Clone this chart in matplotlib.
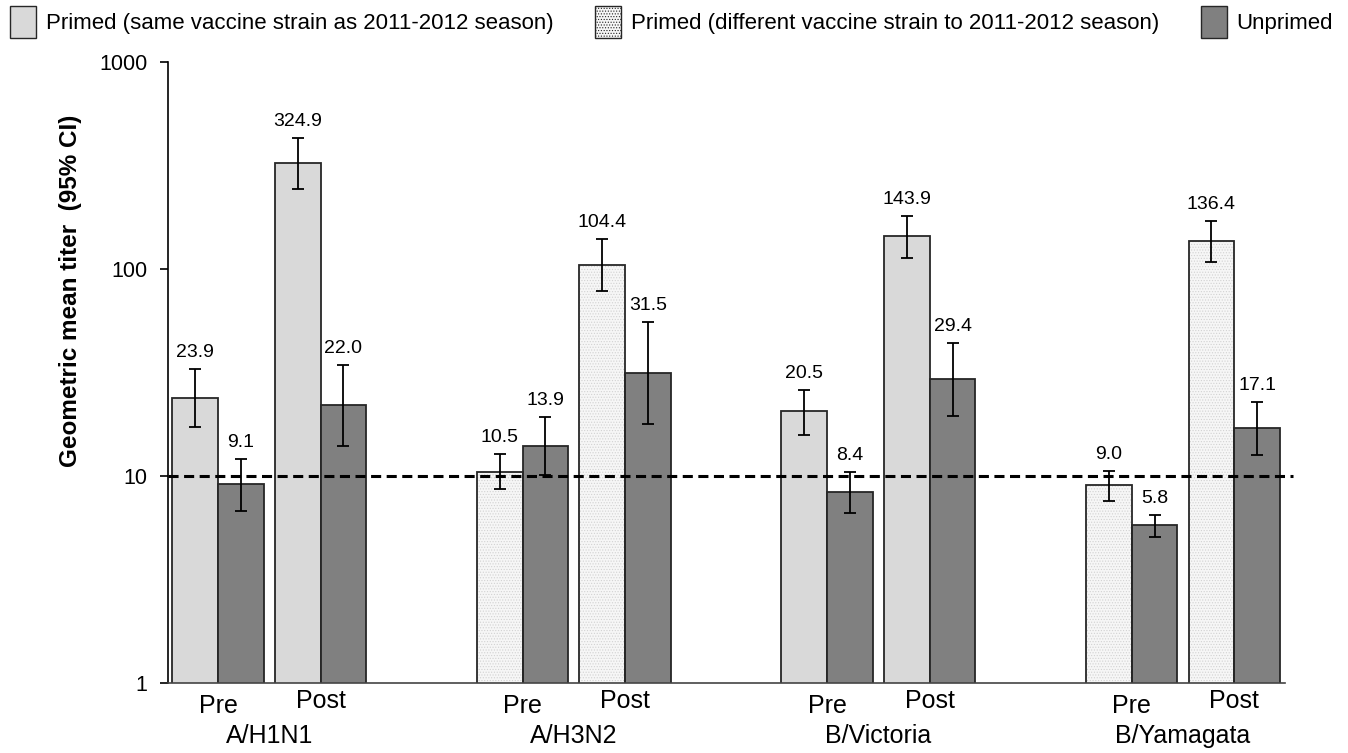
import numpy as np
import matplotlib
matplotlib.use("Agg")
import matplotlib.pyplot as plt
from matplotlib.patches import Patch

plt.rcParams['font.family'] = ['Liberation Sans', 'DejaVu Sans']
plt.rcParams['hatch.linewidth'] = 0.5

# data
strains = ['A/H1N1', 'A/H3N2', 'B/Victoria', 'B/Yamagata']
same_strain = [True, False, True, False]   # primed group got same vaccine strain as 2011-2012

primed_pre = [23.9, 10.5, 20.5, 9.0]
primed_pre_lo = [17.3, 8.7, 15.7, 7.6]
primed_pre_hi = [32.9, 12.8, 26.1, 10.6]

primed_post = [324.9, 104.4, 143.9, 136.4]
primed_post_lo = [244, 78, 113, 108]
primed_post_hi = [430, 139, 180, 171]

unprimed_pre = [9.1, 13.9, 8.4, 5.8]
unprimed_pre_lo = [6.8, 10.1, 6.6, 5.1]
unprimed_pre_hi = [12.1, 19.3, 10.4, 6.5]

unprimed_post = [22.0, 31.5, 29.4, 17.1]
unprimed_post_lo = [13.9, 17.8, 19.4, 12.7]
unprimed_post_hi = [34.4, 55.7, 43.8, 22.7]

threshold = 10
timepoints = ['Pre', 'Post']

c_same = '#d9d9d9'
c_diff = '#f6f6f6'
c_dots = '#d2d2d2'
c_unprimed = '#808080'
c_edge = '#262626'

fig = plt.figure(figsize=(13.48, 7.53), dpi=100)
W, H = 1348, 753
ax = fig.add_axes([168 / W, 1 - 683 / H, (1285 - 168) / W, (683 - 62) / H])

group_step = 3.0
post_shift = 1.01
bw = 0.45

pre_x = np.arange(len(strains)) * group_step
post_x = pre_x + post_shift


def draw_bars(xs, vals, lo, hi, colors, patterned):
    vals = np.array(vals)
    err = np.vstack([vals - np.array(lo), np.array(hi) - vals])
    for x, v, col, pat in zip(xs, vals, colors, patterned):
        if pat:
            ax.bar(x, v, bw, color=col, edgecolor=c_dots, hatch='......', linewidth=0, zorder=2)
            ax.bar(x, v, bw, fill=False, edgecolor=c_edge, linewidth=1.3, zorder=2.1)
        else:
            ax.bar(x, v, bw, color=col, edgecolor=c_edge, linewidth=1.3, zorder=2)
    ax.errorbar(xs, vals, yerr=err, fmt='none', ecolor='black', elinewidth=1.3,
                capsize=4, capthick=1.3, zorder=4)
    for x, v, h in zip(xs, vals, hi):
        ax.annotate(f"{v:.1f}", (x, h), xytext=(0, 8), textcoords='offset pixels',
                    ha='center', va='bottom', fontsize=14)


primed_cols = [c_same if s else c_diff for s in same_strain]
primed_pat = [not s for s in same_strain]
no_pat = [False] * len(strains)

draw_bars(pre_x - bw / 2, primed_pre, primed_pre_lo, primed_pre_hi, primed_cols, primed_pat)
draw_bars(pre_x + bw / 2, unprimed_pre, unprimed_pre_lo, unprimed_pre_hi, [c_unprimed] * 4, no_pat)
draw_bars(post_x - bw / 2, primed_post, primed_post_lo, primed_post_hi, primed_cols, primed_pat)
draw_bars(post_x + bw / 2, unprimed_post, unprimed_post_lo, unprimed_post_hi, [c_unprimed] * 4, no_pat)

ax.axhline(threshold, xmin=0, xmax=1.007, color='black', lw=2.2, dashes=(3.3, 1.8),
           clip_on=False, zorder=3)

ax.set_yscale('log')
ax.set_ylim(1, 1000)
ax.set_yticks([1, 10, 100, 1000])
ax.set_yticklabels(['1', '10', '100', '1000'])
ax.yaxis.set_minor_locator(matplotlib.ticker.NullLocator())
ax.tick_params(axis='y', direction='out', length=6, width=1.2, pad=9, labelsize=15.5)

ax.set_xlim(pre_x[0] - 0.493, post_x[-1] + bw + 0.05)
tick_x = np.concatenate([pre_x, post_x])
ax.set_xticks(tick_x)
ax.set_xticklabels(timepoints[:1] * len(strains) + timepoints[1:] * len(strains))
ax.tick_params(axis='x', length=0, pad=8, labelsize=18)
for lab in ax.get_xticklabels()[len(strains):]:
    lab.set_y(0.008)

for x, name in zip((pre_x + post_x) / 2, strains):
    ax.text(x, -0.085, name, transform=ax.get_xaxis_transform(), ha='center', va='center',
            fontsize=18)

for s in ['top', 'right']:
    ax.spines[s].set_visible(False)
ax.spines['left'].set_linewidth(1.2)
ax.spines['bottom'].set_linewidth(1.2)
ax.spines['bottom'].set_color('#444444')

fig.text(71 / W, 1 - 291 / H, 'Geometric mean titer  (95% CI)', rotation=90,
         ha='center', va='center', fontsize=17.5, fontweight='bold')

handles = [
    Patch(facecolor=c_same, edgecolor=c_edge, linewidth=1.0,
          label='Primed (same vaccine strain as 2011-2012 season)'),
    Patch(facecolor=c_diff, edgecolor=c_edge, linewidth=1.0, hatch='......',
          label='Primed (different vaccine strain to 2011-2012 season)'),
    Patch(facecolor=c_unprimed, edgecolor=c_edge, linewidth=1.0, label='Unprimed'),
]
fig.legend(handles=handles, loc='upper left',
           bbox_to_anchor=(10 / W, 1 - 7 / H, (1333 - 10) / W, 0.001), mode='expand',
           ncol=3, frameon=False, fontsize=16, borderpad=0, borderaxespad=0,
           handlelength=1.15, handleheight=1.84, handletextpad=0.45, columnspacing=1.0)

fig.savefig('out.png', dpi=100)
